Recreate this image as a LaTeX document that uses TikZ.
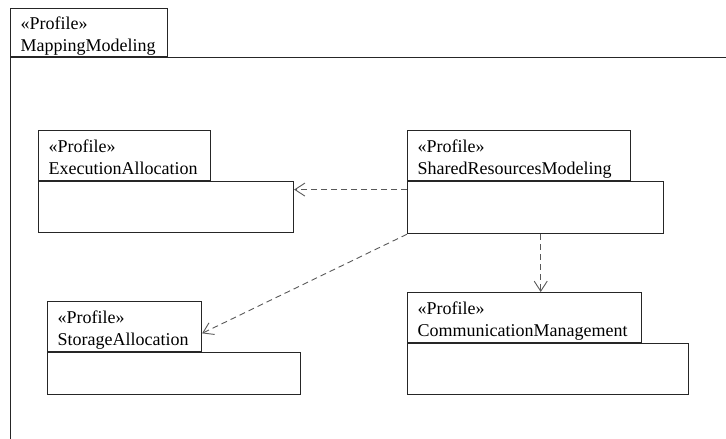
\documentclass[tikz,border=0pt]{standalone}
\usepackage{fontspec}
\setmainfont{Liberation Serif}
\usetikzlibrary{arrows.meta}

\tikzset{
  pkgtab/.style={draw=black!85, line width=1.1pt, anchor=north west, align=left,
    inner xsep=10pt, inner ysep=0pt, minimum height=50pt,
    font=\fontsize{18}{22}\selectfont},
  pkgbody/.style={draw=black!85, line width=1.1pt, anchor=north west, inner sep=0pt},
  dep/.style={draw=black!65, line width=0.9pt, dash pattern=on 6pt off 4pt,
    -{Straight Barb[length=10pt,width=13pt,line width=0.9pt]}}
}
\newcommand{\pkgname}[1]{\rule{0pt}{21pt}«Profile»\\#1\rule[-5pt]{0pt}{5pt}}

\begin{document}
\begin{tikzpicture}[x=1pt, y=-1pt]
  \useasboundingbox (0,0) rectangle (726,439);
  \clip (0,0) rectangle (726,439);

  % outer package
  \node[pkgtab, text width=137pt, minimum height=46pt] (mapTab) at (10,8) {\pkgname{MappingModeling}};
  \node[pkgbody, minimum width=760pt, minimum height=420pt] (mapBody) at (mapTab.south west) {};

  % top row
  \node[pkgtab, text width=152pt] (execTab) at (38,130) {\pkgname{ExecutionAllocation}};
  \node[pkgbody, minimum width=255pt, minimum height=51pt] (execBody) at (execTab.south west) {};

  \node[pkgtab, text width=203pt] (shareTab) at (407,130) {\pkgname{SharedResourcesModeling}};
  \node[pkgbody, minimum width=256pt, minimum height=52pt] (shareBody) at (shareTab.south west) {};

  % bottom row
  \node[pkgtab, text width=134pt] (storTab) at (47,301) {\pkgname{StorageAllocation}};
  \node[pkgbody, minimum width=253pt, minimum height=42pt] (storBody) at (storTab.south west) {};

  \node[pkgtab, text width=214pt] (commTab) at (407,292) {\pkgname{CommunicationManagement}};
  \node[pkgbody, minimum width=281pt, minimum height=51pt] (commBody) at (commTab.south west) {};

  % dependencies
  \draw[dep] (shareBody.172) -- (shareBody.172 -| execBody.east);
  \draw[dep] (shareBody.south west) -- (storTab.-5);
  \draw[dep] (shareBody.-79) -- (shareBody.-79 |- commTab.north);
\end{tikzpicture}
\end{document}
